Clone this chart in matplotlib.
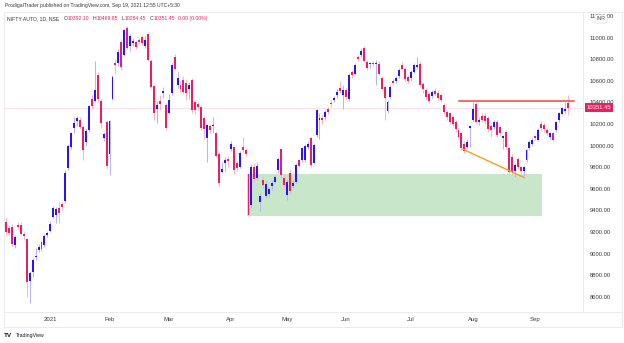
import matplotlib
matplotlib.use("Agg")
import matplotlib.pyplot as plt
from matplotlib.lines import Line2D
from matplotlib.patches import Rectangle

plt.rcParams['font.family'] = ['Liberation Sans', 'DejaVu Sans']

# Daily OHLC for NIFTY AUTO, 10 Dec 2020 .. 17 Sep 2021 (one entry per session)
opens = [9288, 9234, 9248, 9076, 9265, 9263, 9177, 9131, 8748, 8829,
         8965, 9032, 9109, 9076, 9171, 9211, 9340, 9355, 9424, 9455,
         9486, 9788, 9988, 10158, 10229, 10241, 10173, 10034, 10142, 10429,
         10414, 10651, 10411, 10066, 10219, 9918, 10427, 10760, 10765, 10960,
         10836, 11093, 10920, 10950, 10957, 10975, 11006, 10920, 11030, 10784,
         10556, 10343, 10414, 10488, 10374, 10303, 10488, 10821, 10559, 10559,
         10605, 10580, 10528, 10605, 10404, 10383, 10358, 10251, 10066, 10180,
         10180, 10112, 9920, 9757, 9834, 9871, 9964, 9988, 9834, 9803,
         9988, 9957, 9735, 9449, 9803, 9696, 9479, 9680, 9532, 9550,
         9627, 9664, 9772, 9964, 9701, 9541, 9742, 9627, 9664, 9865,
         9865, 9865, 9988, 10066, 9840, 10096, 10235, 10251, 10266, 10343,
         10395, 10420, 10466, 10537, 10466, 10513, 10427, 10682, 10667, 10821,
         10836, 10899, 10775, 10753, 10765, 10753, 10759, 10621, 10543, 10321,
         10450, 10598, 10598, 10642, 10750, 10713, 10636, 10621, 10682, 10728,
         10759, 10570, 10513, 10482, 10457, 10503, 10488, 10466, 10374, 10312,
         10297, 10266, 10219, 10142, 10112, 10019, 9988, 10164, 10235, 10389,
         10219, 10272, 10272, 10251, 10180, 10173, 10219, 10173, 10071, 10127,
         9973, 9895, 9766, 9874, 9797, 9766, 9865, 9973, 10019, 10087,
         10050, 10198, 10189, 10142, 10080, 10112, 10142, 10235, 10290, 10320,
         10392.10]
highs = [9338, 9265, 9270, 9170, 9294, 9290, 9200, 9140, 8840, 8960,
         9048, 9085, 9120, 9180, 9210, 9300, 9440, 9430, 9479, 9480,
         9770, 10010, 10130, 10266, 10275, 10260, 10190, 10150, 10380, 10470,
         10784, 10680, 10430, 10130, 10240, 10240, 10650, 10806, 10890, 10990,
         11080, 11105, 11030, 11000, 10980, 11000, 11020, 11010, 11040, 10800,
         10560, 10410, 10466, 10543, 10390, 10480, 10760, 10845, 10690, 10600,
         10640, 10620, 10590, 10630, 10420, 10400, 10370, 10270, 10200, 10200,
         10266, 10130, 9940, 9849, 9890, 9900, 10040, 10000, 9860, 9950,
         10075, 9980, 9750, 9830, 9840, 9850, 9560, 9720, 9670, 9620,
         9680, 9730, 9890, 9980, 9740, 9690, 9770, 9680, 9840, 9880,
         9990, 10010, 10040, 10080, 10020, 10340, 10300, 10280, 10330, 10360,
         10420, 10460, 10520, 10600, 10560, 10530, 10670, 10700, 10760, 10840,
         10900, 10920, 10790, 10770, 10780, 10790, 10780, 10640, 10560, 10420,
         10560, 10620, 10640, 10720, 10770, 10730, 10650, 10700, 10760, 10821,
         10780, 10590, 10530, 10500, 10510, 10530, 10510, 10480, 10390, 10330,
         10310, 10280, 10240, 10160, 10130, 10040, 10060, 10190, 10400, 10404,
         10260, 10300, 10300, 10270, 10200, 10240, 10240, 10190, 10100, 10140,
         9990, 9920, 9840, 9890, 9810, 9810, 9970, 10050, 10070, 10100,
         10160, 10230, 10210, 10160, 10130, 10130, 10230, 10310, 10360, 10400,
         10469.85]
lows = [9160, 9170, 9070, 9050, 9230, 9170, 9130, 8600, 8542, 8785,
        8940, 9010, 9025, 9060, 9150, 9200, 9330, 9285, 9279, 9400,
        9470, 9770, 9970, 10112, 10180, 10150, 9865, 10000, 10130, 10340,
        10400, 10400, 10158, 10040, 9790, 9726, 10420, 10667, 10740, 10700,
        10830, 10890, 10880, 10920, 10890, 10940, 10930, 10900, 10780, 10530,
        10241, 10210, 10330, 10440, 10140, 10290, 10470, 10700, 10530, 10500,
        10480, 10420, 10430, 10300, 10290, 10330, 10140, 10060, 9849, 10120,
        10112, 9890, 9630, 9742, 9760, 9800, 9950, 9740, 9760, 9790,
        9940, 9900, 9347, 9420, 9660, 9680, 9396, 9610, 9510, 9510,
        9590, 9650, 9750, 9700, 9600, 9500, 9560, 9610, 9650, 9800,
        9850, 9850, 9970, 9800, 9830, 10080, 10060, 10200, 10240, 10290,
        10360, 10400, 10440, 10490, 10340, 10430, 10410, 10630, 10650, 10780,
        10820, 10770, 10700, 10720, 10740, 10560, 10650, 10510, 10235, 10300,
        10440, 10560, 10580, 10630, 10700, 10600, 10580, 10600, 10670, 10710,
        10540, 10490, 10430, 10390, 10440, 10460, 10420, 10400, 10290, 10240,
        10200, 10180, 10130, 10060, 9960, 9930, 9970, 9988, 10220, 10200,
        10190, 10220, 10200, 10130, 10080, 10150, 10080, 10090, 9970, 9970,
        9740, 9726, 9711, 9780, 9750, 9720, 9850, 9960, 10000, 10050,
        10040, 10140, 10130, 10100, 10060, 10040, 10130, 10220, 10281, 10300,
        10284.45]
closes = [9202, 9190, 9088, 9150, 9245, 9180, 9162, 8739, 8817, 8940,
          8975, 9063, 9039, 9162, 9194, 9270, 9418, 9415, 9377, 9433,
          9742, 9994, 10117, 10210, 10251, 10173, 9957, 10136, 10364, 10367,
          10519, 10427, 10210, 10105, 9812, 10226, 10636, 10750, 10867, 10728,
          11068, 10908, 11012, 10969, 10913, 10960, 10950, 10975, 10790, 10543,
          10302, 10374, 10383, 10503, 10167, 10420, 10744, 10713, 10626, 10528,
          10497, 10488, 10565, 10327, 10327, 10353, 10158, 10149, 10189, 10142,
          10189, 9902, 9649, 9779, 9865, 9858, 10019, 9772, 9788, 9932,
          9957, 9920, 9356, 9803, 9686, 9809, 9532, 9634, 9643, 9594,
          9649, 9710, 9871, 9726, 9634, 9664, 9581, 9649, 9819, 9812,
          9973, 9994, 10013, 9819, 10004, 10327, 10251, 10235, 10312, 10312,
          10383, 10436, 10497, 10506, 10513, 10450, 10658, 10651, 10744, 10806,
          10877, 10784, 10722, 10765, 10753, 10765, 10667, 10528, 10436, 10404,
          10543, 10580, 10621, 10704, 10713, 10614, 10598, 10682, 10744, 10744,
          10559, 10525, 10450, 10410, 10497, 10476, 10443, 10420, 10312, 10266,
          10219, 10204, 10149, 10080, 9973, 9951, 10034, 10180, 10343, 10219,
          10241, 10241, 10229, 10149, 10142, 10219, 10096, 10112, 10087, 9988,
          9757, 9757, 9819, 9797, 9766, 9797, 9957, 10034, 10050, 10066,
          10142, 10158, 10149, 10118, 10112, 10056, 10219, 10297, 10350, 10340,
          10351.45]

# Month labels on the time axis and the session index where each month starts
month_labels = ['2021', 'Feb', 'Mar', 'Apr', 'May', 'Jun', 'Jul', 'Aug', 'Sep']
month_starts = [15, 35, 55, 76, 95, 115, 137, 158, 179]

price_ticks = [8600, 8800, 9000, 9200, 9400, 9600, 9800, 10000,
               10200, 10400, 10600, 10800, 11000, 11200]

# Drawings: resistance level, falling trendline, demand zone
resistance_level = 10414
resistance_span = [153.3, 192.0]
trend_x = [154.4, 175.1]
trend_y = [9967, 9705]
zone_x = [81.4, 181.3]
zone_y = [9347, 9734]

last_price = closes[-1]

UP_BODY, UP_WICK = '#2a14f5', '#b9b5fb'
DN_BODY, DN_WICK = '#e91e63', '#f6b9cc'
TXT = '#3a3a3a'
W, H = 624, 343


def fx(px):
    return px / W


def fy(py):
    return 1 - py / H


fig = plt.figure(figsize=(6.24, 3.43), dpi=100)
fig.patch.set_facecolor('white')
ax = fig.add_axes([fx(4), fy(312.3), fx(579), 300 / H])
ax.set_facecolor('white')

# demand zone under the candles
ax.add_patch(Rectangle((zone_x[0], zone_y[0]), zone_x[1] - zone_x[0],
                       zone_y[1] - zone_y[0], facecolor='#c8e6c9',
                       edgecolor='none', zorder=1))

ax.axhline(last_price, color='#fadbe4', lw=0.6, zorder=0.5)

xs = list(range(len(opens)))
for i in xs:
    o, h, l, c = opens[i], highs[i], lows[i], closes[i]
    up = c >= o
    ax.vlines(i, l, h, color=UP_WICK if up else DN_WICK, lw=0.75, zorder=2)
    body = max(abs(c - o), 9)
    ax.bar(i, body, bottom=min(o, c), width=0.66,
           color=UP_BODY if up else DN_BODY, linewidth=0, zorder=3)

ax.plot(resistance_span, [resistance_level] * 2, color='#f0463c', lw=1.1, zorder=4)
ax.plot(trend_x, trend_y, color='#ff9a1f', lw=1.0, zorder=4)

ax.set_xlim(-0.68, 195.1)
ax.set_ylim(8456, 11234)

for s in ax.spines.values():
    s.set_color('#ececec')
    s.set_linewidth(0.7)

ax.yaxis.tick_right()
ax.set_yticks(price_ticks)
ax.set_yticklabels([f'{v:.2f}' for v in price_ticks])
ax.tick_params(axis='y', length=0, pad=4.5, labelsize=4.2, labelcolor=TXT)
ax.set_xticks(month_starts)
ax.set_xticklabels(month_labels)
ax.tick_params(axis='x', length=0, pad=3.5, labelsize=4.3, labelcolor=TXT)

# outer frame around the price and time scales
frame = Rectangle((fx(4), fy(327)), fx(618), (327 - 12.3) / H, transform=fig.transFigure,
                  facecolor='none', edgecolor='#ececec', lw=0.7)
fig.add_artist(frame)
fig.add_artist(Line2D([fx(583), fx(622)], [fy(312.3), fy(312.3)], color='#ececec', lw=0.7))

# current price tag on the scale
ax.annotate(f'{last_price:.2f}', xy=(1, last_price), xycoords=('axes fraction', 'data'),
            xytext=(2.6, 0), textcoords='offset points', ha='left', va='center',
            fontsize=4.2, color='white', annotation_clip=False, zorder=6,
            bbox=dict(boxstyle='square,pad=0.35', fc=DN_BODY, ec='none'))

# currency badge
fig.text(fx(601), fy(19), 'INR', fontsize=3.8, color='#555555', ha='center', va='center',
         bbox=dict(boxstyle='round,pad=0.3,rounding_size=0.3', fc='white', ec='#dcdcdc', lw=0.5),
         zorder=7)

fig.text(fx(5), fy(6), 'ProdigalTrader published on TradingView.com, Sep 19, 2021 12:55 UTC+5:30',
         fontsize=3.6, color=TXT, ha='left', va='center')

# symbol line with OHLC values
parts = [('NIFTY AUTO, 1D, NSE', TXT, 0),
         ('O', TXT, 3.0), (f'{opens[-1]:.2f}', DN_BODY, 0.1),
         ('H', TXT, 2.6), (f'{highs[-1]:.2f}', DN_BODY, 0.1),
         ('L', TXT, 2.6), (f'{lows[-1]:.2f}', DN_BODY, 0.1),
         ('C', TXT, 2.6), (f'{closes[-1]:.2f}', DN_BODY, 0.1),
         ('0.00 (0.00%)', DN_BODY, 2.6)]
prev = fig.text(fx(7), fy(18.5), parts[0][0], fontsize=3.7, color=parts[0][1],
                ha='left', va='center', zorder=8)
for txt, col, gap in parts[1:]:
    prev = ax.annotate(txt, xy=(1, 0.5), xycoords=prev, xytext=(gap, 0),
                       textcoords='offset points', ha='left', va='center',
                       fontsize=3.7, color=col, annotation_clip=False, zorder=8)

fig.text(fx(4), fy(335.5), 'TV', fontsize=4.6, fontweight='bold', color='#131722',
         ha='left', va='center')
fig.text(fx(15.5), fy(335.5), 'TradingView', fontsize=3.7, color='#131722',
         ha='left', va='center')

fig.savefig('out.png', dpi=100, facecolor='white')
